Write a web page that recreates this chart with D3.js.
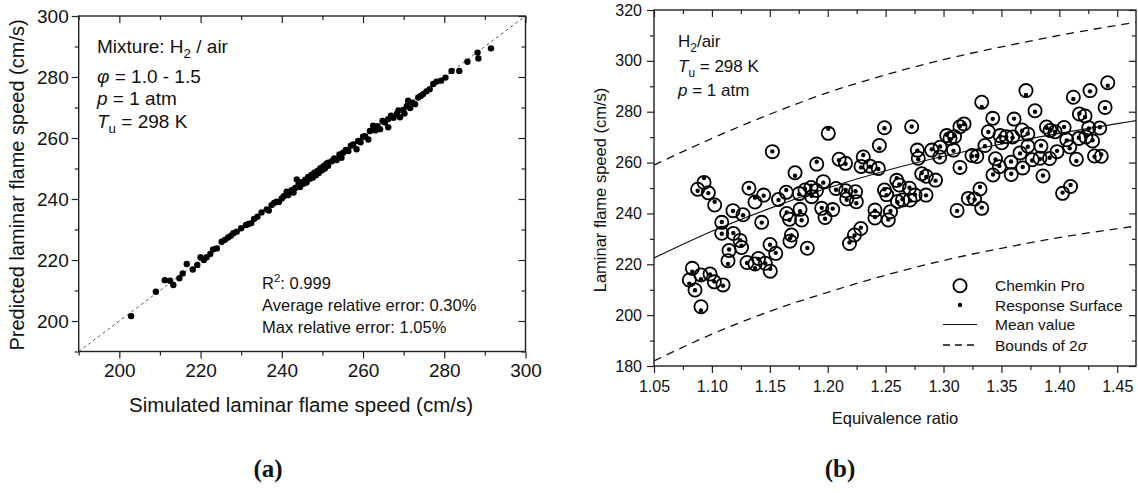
<!DOCTYPE html>
<html>
<head>
<meta charset="utf-8">
<script src="https://cdn.jsdelivr.net/npm/d3@7"></script>
<style>
  body { margin: 0; background: #fff; }
</style>
</head>
<body>
<svg id="chart" width="1138" height="493"></svg>
<script>
// ---------------- DATA: panel (a) ----------------
const simA = [202.9, 209.0, 211.2, 212.5, 213.3, 214.8, 215.6, 216.6, 218.1, 219.2, 220.0, 220.8, 221.5,
  222.4, 223.1, 224.0, 225.2, 226.0, 226.8, 227.5, 228.1, 228.9, 230.0, 231.2, 231.8, 232.5, 233.2, 234.0,
  235.0, 236.3, 236.8, 237.5, 238.1, 238.7, 239.3, 240.0, 240.5, 241.2, 241.6,
  242.4, 242.9, 243.3, 243.7, 244.1, 244.5, 244.9, 245.3, 245.8, 246.1, 246.5, 246.9, 247.3, 247.6, 248.0,
  248.4, 248.8, 249.1, 249.5, 249.9, 250.3, 250.6, 251.0, 251.4, 251.4, 252.3, 252.9, 253.5, 254.2, 254.7,
  255.1, 255.8, 256.4, 257.0, 257.6, 258.4, 258.8, 259.4, 260.0, 260.5, 261.3, 261.7, 262.5, 263.0, 263.6,
  264.2, 264.8, 265.4, 266.2, 266.2, 266.9, 267.5, 268.3, 268.7, 269.1, 269.9, 270.2, 270.8, 271.1, 271.6,
  272.2, 272.8, 273.6, 274.2, 274.8, 275.6, 276.4, 277.3, 278.1, 279.2, 280.3, 281.8, 283.7, 285.7, 288.2,
  288.4, 291.5];
const predA = [201.6, 209.6, 213.4, 213.2, 211.8, 214.0, 215.6, 218.7, 216.9, 218.4, 220.9, 220.0, 220.9,
  222.0, 223.5, 223.8, 226.0, 226.6, 227.4, 228.0, 228.8, 229.3, 230.4, 231.5, 231.8, 232.1, 233.5, 234.2,
  235.6, 236.6, 236.2, 238.0, 238.7, 239.1, 239.0, 240.2, 240.9, 242.4, 241.3,
  242.9, 242.1, 243.6, 246.4, 244.6, 243.9, 245.5, 245.0, 246.3, 245.4, 247.2, 246.6, 247.9, 247.0, 248.6,
  247.8, 249.2, 248.5, 250.1, 249.4, 250.8, 250.0, 251.6, 250.9, 251.9, 252.4, 253.3, 252.8, 254.6, 253.5,
  255.2, 256.1, 255.7, 257.5, 257.9, 256.3, 259.0, 258.6, 260.4, 260.6, 259.5, 262.3, 264.0, 262.5, 263.9,
  262.9, 265.6, 265.1, 266.2, 263.5, 267.3, 266.6, 267.9, 269.0, 266.8, 269.2, 268.0, 270.5, 272.2, 269.8,
  271.6, 271.1, 273.3, 273.8, 274.4, 275.3, 276.0, 277.7, 278.5, 278.8, 279.8, 282.0, 282.0, 285.0, 288.0,
  286.1, 289.4];

const xTicksA = [200, 220, 240, 260, 280, 300];
const xMinorA = [190, 210, 230, 250, 270, 290];
const yTicksA = [200, 220, 240, 260, 280, 300];
const yMinorA = [190, 210, 230, 250, 270, 290];

// ---------------- DATA: panel (b) ----------------
const phiB = [1.0831, 1.0805, 1.0854, 1.0906, 1.0984, 1.1021, 1.1096, 1.0906, 1.0877, 1.0932, 1.0969, 1.1024,
  1.1085, 1.1085, 1.1148, 1.1139, 1.1182, 1.1185, 1.1243, 1.1256, 1.1269, 1.1303, 1.1320, 1.1372, 1.1372,
  1.1402, 1.1430, 1.1447, 1.1461, 1.1504, 1.1502, 1.1551, 1.1522, 1.1575, 1.1642, 1.1646, 1.1670, 1.1674,
  1.1687, 1.1718, 1.1754, 1.1761, 1.1775, 1.1804, 1.1824, 1.1856, 1.1862, 1.1905, 1.1903, 1.1948, 1.1962,
  1.1977, 1.2005, 1.2043, 1.2072, 1.2098, 1.2154, 1.2155, 1.2164, 1.2188, 1.2231, 1.2240, 1.2247, 1.2286,
  1.2288, 1.2307, 1.2365, 1.2408, 1.2408, 1.2437, 1.2446, 1.2490, 1.2490, 1.2508, 1.2523, 1.2542, 1.2596,
  1.2603, 1.2618, 1.2646, 1.2706, 1.2711, 1.2725, 1.2754, 1.2774, 1.2782, 1.2812, 1.2849, 1.2851, 1.2898,
  1.2931, 1.2970, 1.2967, 1.3028, 1.3056, 1.3086, 1.3095, 1.3117, 1.3142, 1.3142, 1.3177, 1.3214, 1.3246,
  1.3268, 1.3287, 1.3315, 1.3330, 1.3330, 1.3358, 1.3387, 1.3425, 1.3427, 1.3449, 1.3482, 1.3488, 1.3503,
  1.3542, 1.3585, 1.3583, 1.3596, 1.3609, 1.3661, 1.3678, 1.3684, 1.3712, 1.3728, 1.3728, 1.3766, 1.3790,
  1.3833, 1.3842, 1.3859, 1.3889, 1.3920, 1.3916, 1.3963, 1.3980, 1.4028, 1.4041, 1.4064, 1.4090, 1.4097,
  1.4121, 1.4147, 1.4168, 1.4173, 1.4222, 1.4229, 1.4254, 1.4265, 1.4287, 1.4304, 1.4349, 1.4362, 1.4395,
  1.4418];
const chemkinB = [218.4, 213.8, 209.9, 215.8, 216.2, 213.1, 211.9, 203.3, 249.5, 252.2, 248.1, 243.3,
  236.5, 232.2, 225.4, 221.4, 241.1, 232.1, 229.4, 226.6, 239.5, 220.7, 249.9, 244.5, 220.1,
  222.3, 236.5, 247.2, 220.4, 217.3, 227.8, 224.3, 264.3, 245.5, 248.3, 240.0, 237.7, 229.1,
  231.5, 256.0, 247.8, 241.6, 237.4, 249.2, 226.3, 250.2, 246.6, 259.4, 249.0, 242.0, 252.5,
  238.4, 271.5, 241.5, 249.8, 261.3, 259.7, 248.9, 245.7, 228.2, 231.5, 248.5, 244.6, 234.1,
  258.5, 262.2, 258.6, 241.3, 238.2, 257.7, 266.7, 273.7, 249.2, 247.4, 237.4, 240.7, 253.0,
  244.7, 251.2, 245.3, 249.9, 245.3, 274.1, 247.2, 264.9, 261.7, 255.6, 247.2, 254.6, 264.9,
  253.1, 266.0, 262.2, 270.6, 269.5, 264.9, 270.2, 241.2, 258.1, 274.1, 275.2, 245.9, 262.8,
  245.7, 262.4, 249.6, 283.7, 242.0, 266.7, 272.1, 277.4, 255.1, 261.5, 258.4, 270.6, 267.8,
  270.2, 255.3, 260.1, 270.1, 277.1, 263.8, 272.8, 257.9, 288.3, 271.2, 266.4, 261.1, 280.4,
  261.7, 266.4, 254.7, 274.0, 272.6, 261.6, 272.1, 264.3, 247.9, 273.8, 269.0, 266.1, 250.6,
  285.7, 261.3, 269.5, 279.1, 278.3, 270.1, 273.7, 288.3, 268.5, 262.6, 273.6, 262.5, 281.7,
  291.4];
const responseB = [217.1, 212.4, 209.8, 214.1, 216.0, 213.2, 211.6, 201.8, 248.9, 253.9, 248.0, 244.6,
  236.6, 232.0, 225.8, 220.1, 241.0, 232.3, 229.5, 227.3, 239.3, 220.5, 250.1, 246.2, 218.5,
  222.1, 236.4, 247.0, 220.3, 218.2, 227.7, 224.5, 264.4, 245.3, 249.2, 240.4, 237.4, 230.2,
  231.3, 254.8, 247.5, 240.9, 237.3, 249.6, 226.4, 250.9, 246.9, 260.3, 248.6, 242.2, 252.1,
  237.9, 273.3, 241.9, 249.3, 260.9, 259.5, 249.2, 245.4, 228.6, 231.3, 248.7, 244.0, 234.4,
  258.1, 263.0, 258.4, 241.1, 238.6, 257.5, 265.6, 273.5, 249.5, 247.2, 237.6, 241.0, 253.9,
  244.4, 251.4, 245.6, 250.1, 245.0, 274.2, 247.4, 264.7, 261.3, 255.9, 247.1, 254.3, 265.2,
  252.9, 266.3, 262.0, 270.9, 269.3, 264.6, 270.5, 241.0, 257.8, 274.4, 275.1, 246.2, 262.5,
  245.5, 262.7, 250.4, 281.9, 242.3, 266.4, 272.0, 277.2, 255.3, 261.2, 258.7, 270.4, 268.0,
  270.1, 255.6, 260.4, 269.8, 277.3, 263.6, 272.5, 258.3, 286.6, 271.4, 266.2, 260.8, 280.0,
  261.4, 266.7, 254.9, 273.7, 272.9, 261.9, 272.0, 264.6, 248.2, 274.0, 268.7, 265.6, 251.2,
  285.0, 260.6, 269.8, 279.3, 277.9, 270.4, 273.4, 288.0, 268.8, 262.3, 273.9, 263.2, 281.5,
  290.2];

const curvePhi = [1.05, 1.10, 1.15, 1.20, 1.25, 1.30, 1.35, 1.40, 1.45, 1.4662];
const meanB = [222.5, 233.0, 242.0, 250.0, 256.8, 262.5, 267.3, 271.5, 275.3, 276.5];
const upperB = [259.0, 269.5, 279.0, 287.5, 294.5, 300.5, 305.5, 310.0, 314.0, 315.2];
const lowerB = [182.0, 192.5, 201.5, 209.0, 215.7, 221.5, 226.3, 230.5, 234.0, 235.0];

const xTicksB = [1.05, 1.10, 1.15, 1.20, 1.25, 1.30, 1.35, 1.40, 1.45];
const xMinorB = [1.075, 1.125, 1.175, 1.225, 1.275, 1.325, 1.375, 1.425];
const yTicksB = [180, 200, 220, 240, 260, 280, 300, 320];
const yMinorB = [190, 210, 230, 250, 270, 290, 310];

const FONT = '"Liberation Sans", Arial, sans-serif';
const SERIF = '"Liberation Serif", "Times New Roman", serif';
const svg = d3.select("#chart").attr("font-family", FONT);

// ---------------- AXIS BOX WITH MIRRORED TICKS ----------------
function drawFrame(g, x, y, cfg) {
  const [xl, xr] = x.range();
  const [yb, yt] = y.range();
  const ax = (axis, tr, vals, size, pad, fmt) => {
    const a = g.append("g")
      .attr("transform", tr)
      .call(axis.tickValues(vals).tickSizeInner(size).tickSizeOuter(0).tickPadding(pad).tickFormat(fmt));
    a.select(".domain").remove();
    a.attr("font-size", cfg.font).attr("font-family", FONT);
    a.selectAll("line").attr("stroke", "#222").attr("stroke-width", 1.2);
    a.selectAll("text").attr("fill", "#111");
    return a;
  };
  const none = () => "";
  ax(d3.axisBottom(x), `translate(0,${yb})`, cfg.xMajor, 7, cfg.xPad, cfg.xFmt);
  ax(d3.axisBottom(x), `translate(0,${yb})`, cfg.xMinor, 4, 3, none);
  ax(d3.axisTop(x), `translate(0,${yt})`, cfg.xMajor, -7, 3, none);
  ax(d3.axisTop(x), `translate(0,${yt})`, cfg.xMinor, -4, 3, none);
  ax(d3.axisLeft(y), `translate(${xl},0)`, cfg.yMajor, 7, cfg.yPad, cfg.yFmt);
  ax(d3.axisLeft(y), `translate(${xl},0)`, cfg.yMinor, 4, 3, none);
  ax(d3.axisRight(y), `translate(${xr},0)`, cfg.yMajor, -7, 3, none);
  ax(d3.axisRight(y), `translate(${xr},0)`, cfg.yMinor, -4, 3, none);
  g.append("rect")
    .attr("x", xl).attr("y", yt)
    .attr("width", xr - xl).attr("height", yb - yt)
    .attr("fill", "none").attr("stroke", "#222").attr("stroke-width", 1.4);
}

// text line made of pieces: plain, italic, subscript, superscript
function richText(g, x, y, size, parts) {
  const t = g.append("text").attr("x", x).attr("y", y).attr("font-size", size).attr("fill", "#111");
  parts.forEach((p) => {
    const s = t.append("tspan").text(p.t);
    if (p.i) s.attr("font-style", "italic");
    if (p.sub) s.attr("font-size", size * 0.7).attr("dy", size * 0.28);
    if (p.sup) s.attr("font-size", size * 0.7).attr("dy", -size * 0.4);
    if (p.back) s.attr("dy", p.back);
  });
  return t;
}

// ---------------- PANEL (a) ----------------
const ga = svg.append("g");
const xa = d3.scaleLinear().domain([190, 300]).range([78.7, 525.5]);
const ya = d3.scaleLinear().domain([190, 300]).range([351.5, 16]);

ga.append("line")
  .attr("x1", xa(190)).attr("y1", ya(190))
  .attr("x2", xa(300)).attr("y2", ya(300))
  .attr("stroke", "#444").attr("stroke-width", 0.9)
  .attr("stroke-dasharray", "3,3");

ga.selectAll("circle.pt")
  .data(simA.map((s, i) => [s, predA[i]]))
  .enter()
  .append("circle")
  .attr("class", "pt")
  .attr("cx", (d) => xa(d[0]))
  .attr("cy", (d) => ya(d[1]))
  .attr("r", 3.2)
  .attr("fill", "#000");

drawFrame(ga, xa, ya, {
  font: 19, xMajor: xTicksA, xMinor: xMinorA, yMajor: yTicksA, yMinor: yMinorA,
  xFmt: d3.format("d"), yFmt: d3.format("d"), xPad: 5, yPad: 3,
});

ga.append("text")
  .attr("x", 301).attr("y", 412)
  .attr("text-anchor", "middle").attr("font-size", 20.5).attr("fill", "#111")
  .text("Simulated laminar flame speed (cm/s)");
ga.append("text")
  .attr("transform", "translate(24,185) rotate(-90)")
  .attr("text-anchor", "middle").attr("font-size", 20).attr("fill", "#111")
  .text("Predicted laminar flame speed (cm/s)");

richText(ga, 97, 53, 19, [{ t: "Mixture: H" }, { t: "2", sub: true }, { t: " / air", back: -19 * 0.28 }]);
richText(ga, 97, 83, 19, [{ t: "φ", i: true }, { t: " = 1.0 - 1.5" }]);
richText(ga, 97, 105, 19, [{ t: "p", i: true }, { t: " = 1 atm" }]);
richText(ga, 97, 128, 19, [{ t: "T", i: true }, { t: "u", sub: true }, { t: " = 298 K", back: -19 * 0.28 }]);

richText(ga, 262, 289, 16.5, [{ t: "R" }, { t: "2", sup: true }, { t: ": 0.999", back: 16.5 * 0.4 }]);
richText(ga, 262, 311, 16.5, [{ t: "Average relative error: 0.30%" }]);
richText(ga, 262, 333, 16.5, [{ t: "Max relative error: 1.05%" }]);

// ---------------- PANEL (b) ----------------
const gb = svg.append("g");
const xb = d3.scaleLinear().domain([1.05, 1.4662]).range([654, 1136]);
const yb = d3.scaleLinear().domain([180, 320]).range([366, 10]);

const band = (vals) =>
  d3.line().x((d, i) => xb(curvePhi[i])).y((d) => yb(d)).curve(d3.curveMonotoneX)(vals);

gb.append("path").attr("d", band(upperB))
  .attr("fill", "none").attr("stroke", "#111").attr("stroke-width", 1.3).attr("stroke-dasharray", "8,6");
gb.append("path").attr("d", band(lowerB))
  .attr("fill", "none").attr("stroke", "#111").attr("stroke-width", 1.3).attr("stroke-dasharray", "8,6");
gb.append("path").attr("d", band(meanB))
  .attr("fill", "none").attr("stroke", "#111").attr("stroke-width", 1.2);

const ptsB = phiB.map((p, i) => ({ phi: p, ck: chemkinB[i], rs: responseB[i] }));

gb.selectAll("circle.ck")
  .data(ptsB)
  .enter()
  .append("circle")
  .attr("class", "ck")
  .attr("cx", (d) => xb(d.phi))
  .attr("cy", (d) => yb(d.ck))
  .attr("r", 6.6)
  .attr("fill", "none")
  .attr("stroke", "#000")
  .attr("stroke-width", 1.8);

gb.selectAll("circle.rs")
  .data(ptsB)
  .enter()
  .append("circle")
  .attr("class", "rs")
  .attr("cx", (d) => xb(d.phi))
  .attr("cy", (d) => yb(d.rs))
  .attr("r", 2.2)
  .attr("fill", "#000");

drawFrame(gb, xb, yb, {
  font: 16, xMajor: xTicksB, xMinor: xMinorB, yMajor: yTicksB, yMinor: yMinorB,
  xFmt: d3.format(".2f"), yFmt: d3.format("d"), xPad: 8, yPad: 5,
});

gb.append("text")
  .attr("x", 895).attr("y", 424)
  .attr("text-anchor", "middle").attr("font-size", 16.5).attr("fill", "#111")
  .text("Equivalence ratio");
gb.append("text")
  .attr("transform", "translate(606,190) rotate(-90)")
  .attr("text-anchor", "middle").attr("font-size", 16.5).attr("fill", "#111")
  .text("Laminar flame speed (cm/s)");

richText(gb, 678, 47, 17, [{ t: "H" }, { t: "2", sub: true }, { t: "/air", back: -17 * 0.28 }]);
richText(gb, 678, 72, 17, [{ t: "T", i: true }, { t: "u", sub: true }, { t: " = 298 K", back: -17 * 0.28 }]);
richText(gb, 678, 96, 17, [{ t: "p", i: true }, { t: " = 1 atm" }]);

// legend
const lg = gb.append("g");
lg.append("circle").attr("cx", 960).attr("cy", 285.7).attr("r", 6.6)
  .attr("fill", "none").attr("stroke", "#000").attr("stroke-width", 1.8);
lg.append("circle").attr("cx", 960).attr("cy", 305).attr("r", 2.2).attr("fill", "#000");
lg.append("line").attr("x1", 943).attr("x2", 977).attr("y1", 324.5).attr("y2", 324.5)
  .attr("stroke", "#111").attr("stroke-width", 1.2);
lg.append("line").attr("x1", 943).attr("x2", 977).attr("y1", 345).attr("y2", 345)
  .attr("stroke", "#111").attr("stroke-width", 1.3).attr("stroke-dasharray", "7,5");
richText(lg, 995, 291, 15.5, [{ t: "Chemkin Pro" }]);
richText(lg, 995, 310.5, 15.5, [{ t: "Response Surface" }]);
richText(lg, 995, 330, 15.5, [{ t: "Mean value" }]);
richText(lg, 995, 350.5, 15.5, [{ t: "Bounds of 2" }, { t: "σ", i: true }]);

// ---------------- SUB-FIGURE LABELS ----------------
svg.append("text").attr("x", 268).attr("y", 477)
  .attr("text-anchor", "middle").attr("font-size", 25).attr("font-weight", "bold")
  .attr("font-family", SERIF).attr("fill", "#111")
  .text("(a)");
svg.append("text").attr("x", 840).attr("y", 477)
  .attr("text-anchor", "middle").attr("font-size", 25).attr("font-weight", "bold")
  .attr("font-family", SERIF).attr("fill", "#111")
  .text("(b)");
</script>
</body>
</html>
